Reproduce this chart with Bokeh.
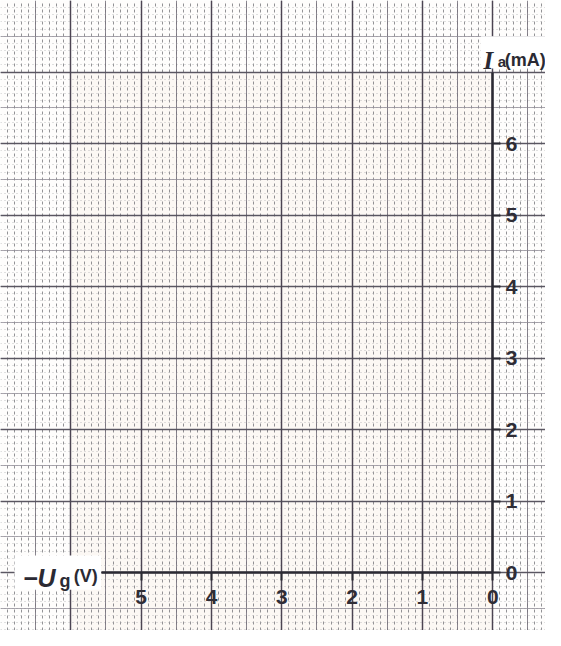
from bokeh.plotting import figure
from bokeh.models import (Range1d, LinearAxis, FixedTicker, SingleIntervalTicker,
                          Grid, Label, BoxAnnotation)
from bokeh.embed import file_html
from bokeh.resources import INLINE

# ---- data ----
x_ticks = [0, 1, 2, 3, 4, 5]          # -Ug (V)
y_ticks = [0, 1, 2, 3, 4, 5, 6]       # Ia (mA)
x_axis_end = 5.57
y_axis_end = 7
x_title = ["−U", "g", "(V)"]
y_title = ["I", "a", "(mA)"]

X0, X1 = 7.0, -0.75
Y0, Y1 = -0.81, 8.0

p = figure(width=545, height=630,
           x_range=Range1d(X0, X1), y_range=Range1d(Y0, Y1),
           output_backend="svg", toolbar_location=None,
           x_axis_location=None, y_axis_location=None,
           min_border=0, outline_line_color=None,
           background_fill_color="#fefdfc", border_fill_color="white")

# faint paper tint
p.add_layout(BoxAnnotation(left=0, right=6, bottom=Y0, top=7,
                           fill_color="#faf1ea", fill_alpha=0.45,
                           line_color=None, level="image"))

def add_grid(dim, interval, color, width, dash, alpha):
    lo, hi = (min(X0, X1), max(X0, X1)) if dim == 0 else (Y0, Y1)
    g = Grid(dimension=dim, bounds=(lo - 0.2, hi + 0.2),
             ticker=SingleIntervalTicker(interval=interval, num_minor_ticks=0),
             grid_line_color=color, grid_line_width=width,
             grid_line_dash=dash, grid_line_alpha=alpha)
    p.add_layout(g)

# millimetre lines (dotted)
add_grid(0, 0.1, "#6f6f74", 1, "3 3", 0.75)
add_grid(1, 0.1, "#a8a8ac", 1, "1 3", 0.7)
# half-unit lines
add_grid(0, 0.5, "#77727c", 1, "solid", 0.85)
add_grid(1, 0.5, "#8e8a94", 1, "solid", 0.75)
# unit lines
add_grid(0, 1, "#463e4c", 1.5, "solid", 0.9)
add_grid(1, 1, "#4e4a56", 1.5, "solid", 0.85)

axis_kw = dict(fixed_location=0, axis_line_width=2.5, axis_line_color="#2b2a33",
               major_tick_line_width=2, major_tick_line_color="#2b2a33",
               major_tick_out=8, major_tick_in=0, minor_tick_out=0, minor_tick_in=0,
               major_label_text_font="Liberation Sans",
               major_label_text_font_style="bold",
               major_label_text_font_size="21px",
               major_label_text_color="#2f2d36")

xaxis = LinearAxis(ticker=FixedTicker(ticks=x_ticks), bounds=(0, x_axis_end),
                   major_label_standoff=9, **axis_kw)
p.add_layout(xaxis, "below")

yaxis = LinearAxis(ticker=FixedTicker(ticks=y_ticks), bounds=(0, y_axis_end),
                   major_label_standoff=5, **axis_kw)
p.add_layout(yaxis, "right")

# white patches behind the axis titles
p.add_layout(BoxAnnotation(left=x_axis_end, right=6.8, bottom=-0.24, top=0.24,
                           fill_color="white", fill_alpha=1, line_color=None,
                           level="guide"))
p.add_layout(BoxAnnotation(left=-0.87, right=0.17, bottom=y_axis_end + 0.05, top=7.5,
                           fill_color="white", fill_alpha=1, line_color=None,
                           level="guide"))

# axis titles
lab_kw = dict(text_color="#2b2a33", text_font="Liberation Sans",
              text_font_style="bold", text_baseline="alphabetic",
              text_align="left")
p.add_layout(Label(x=6.68, y=-0.08, text=x_title[0], text_font_size="25px",
                   **{**lab_kw, "text_font_style": "bold italic"}))
p.add_layout(Label(x=6.16, y=-0.12, text=x_title[1], text_font_size="18px", **lab_kw))
p.add_layout(Label(x=5.96, y=-0.05, text=x_title[2], text_font_size="18px", **lab_kw))

p.add_layout(Label(x=0.13, y=7.16, text=y_title[0], text_font_size="25px",
                   **{**lab_kw, "text_font": "Liberation Serif",
                      "text_font_style": "bold italic"}))
p.add_layout(Label(x=-0.07, y=7.14, text=y_title[1], text_font_size="15px", **lab_kw))
p.add_layout(Label(x=-0.17, y=7.17, text=y_title[2], text_font_size="18px", **lab_kw))

open("out.html", "w").write(file_html(p, INLINE))
